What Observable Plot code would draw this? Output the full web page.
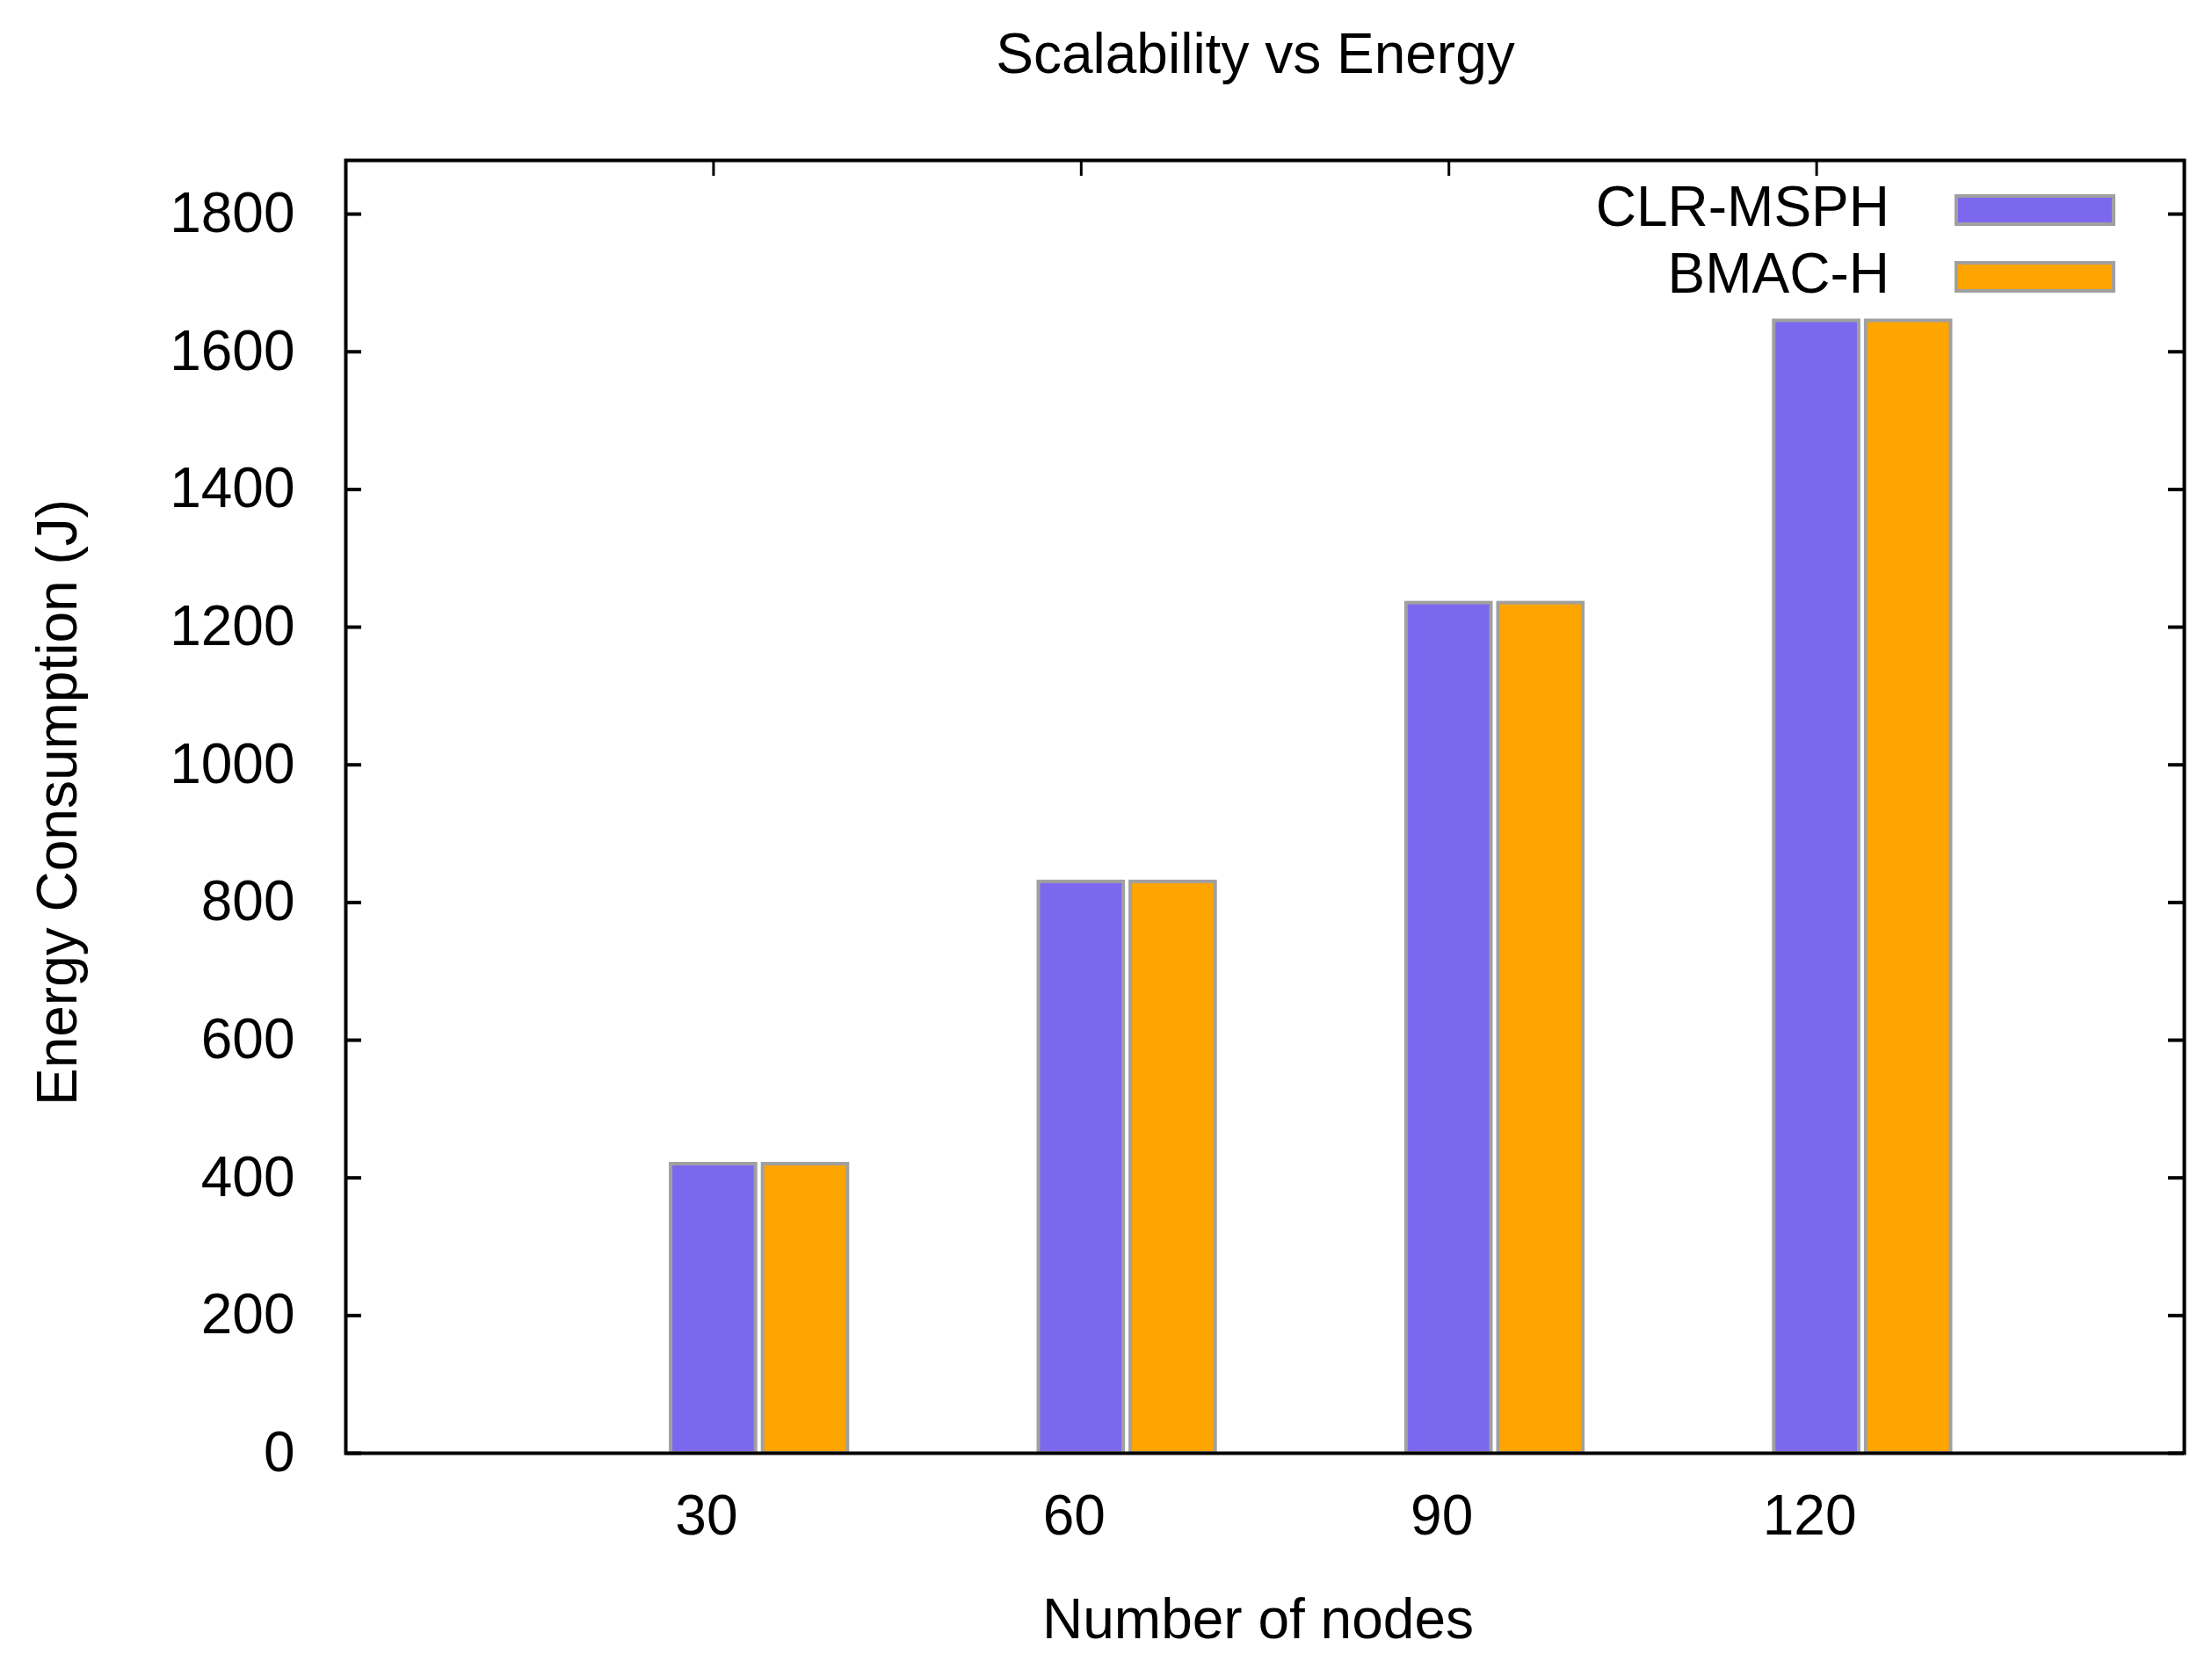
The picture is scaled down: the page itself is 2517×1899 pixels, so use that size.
<!DOCTYPE html>
<html>
<head>
<meta charset="utf-8">
<script src="https://cdn.jsdelivr.net/npm/d3@7"></script>
<script src="https://cdn.jsdelivr.net/npm/@observablehq/plot@0.6"></script>
<style>
  html, body { margin: 0; padding: 0; background: #fff; overflow: hidden; }
  #chart svg { display: block; }
</style>
</head>
<body>
<div id="chart"></div>
<script>
// ---- data ----
const nodes = [30, 60, 90, 120];
const clrMsph = [420, 830, 1235, 1645];
const bmacH = [420, 830, 1235, 1645];
const seriesNames = ["CLR-MSPH", "BMAC-H"];
const seriesColors = ["#7b68ee", "#ffa500"];
const yTicks = [0, 200, 400, 600, 800, 1000, 1200, 1400, 1600, 1800];
const titleText = "Scalability vs Energy";
const xLabel = "Number of nodes";
const yLabel = "Energy Consumption (J)";

const rows = nodes.flatMap((n, i) => [
  {n, s: 0, name: seriesNames[0], value: clrMsph[i]},
  {n, s: 1, name: seriesNames[1], value: bmacH[i]}
]);

// ---- layout / style ----
const W = 2517, H = 1899;
const mL = 393, mR = 32, mT = 182, mB = 246;
const frameW = W - mL - mR, frameH = H - mT - mB;
const box = 7.5; // histogram box width in node units (gnuplot-like clustering)
const font = "'Liberation Sans', Arial, Helvetica, sans-serif";
const FS = 64;

const chart = Plot.plot({
  width: W, height: H,
  marginLeft: mL, marginRight: mR, marginTop: mT, marginBottom: mB,
  style: {fontFamily: font, fontSize: FS + "px", color: "#000", background: "#fff"},
  x: {type: "linear", domain: [0, 150]},
  y: {domain: [0, 1878]},
  color: {domain: seriesNames, range: seriesColors},
  marks: [
    Plot.rect(rows, {
      x1: d => d.n - box / 2 + d.s * box,
      x2: d => d.n + box / 2 + d.s * box,
      y1: 0, y2: "value",
      fill: "name", stroke: "#a0a0a0", strokeWidth: 4,
      insetLeft: 4, insetRight: 4
    }),
    Plot.tickY(yTicks, {y: d => d, stroke: "#000", strokeWidth: 4, insetRight: frameW - 18}),
    Plot.tickY(yTicks, {y: d => d, stroke: "#000", strokeWidth: 4, insetLeft: frameW - 18}),
    Plot.tickX(nodes, {x: d => d, stroke: "#000", strokeWidth: 3, insetBottom: frameH - 18}),
    Plot.frame({stroke: "#000", strokeWidth: 4}),
    Plot.axisY({ticks: yTicks, tickFormat: d => String(d), tickSize: 0, tickPadding: 58, label: null, fontSize: FS}),
    Plot.axisX({ticks: nodes, tickFormat: d => String(d), tickSize: 0, tickPadding: 47, dx: -8, label: null, fontSize: FS}),
    Plot.text([titleText], {frameAnchor: "top", lineAnchor: "middle", textAnchor: "middle", text: d => d, dy: -120, dx: -11, fontSize: FS, fill: "#000"}),
    Plot.text([xLabel], {frameAnchor: "bottom", lineAnchor: "middle", textAnchor: "middle", text: d => d, dy: 190, dx: -8, fontSize: FS, fill: "#000"}),
    Plot.text([yLabel], {frameAnchor: "left", lineAnchor: "middle", textAnchor: "middle", text: d => d, rotate: -90, dx: -327, dy: -5, fontSize: FS, fill: "#000"})
  ]
});

document.getElementById("chart").append(chart);

// ---- legend (inside the frame, top-right, gnuplot style) ----
const frameRight = W - mR;
const legend = d3.select(chart).append("g")
  .attr("font-family", font).attr("font-size", FS);
seriesNames.forEach((name, i) => {
  const baseline = mT + 75 + i * 76;
  legend.append("text")
    .attr("x", frameRight - 335).attr("y", baseline)
    .attr("text-anchor", "end").attr("fill", "#000")
    .text(name);
  legend.append("rect")
    .attr("x", frameRight - 259).attr("y", baseline - 34)
    .attr("width", 179).attr("height", 32)
    .attr("fill", seriesColors[i]).attr("stroke", "#a0a0a0").attr("stroke-width", 4);
});
</script>
</body>
</html>
